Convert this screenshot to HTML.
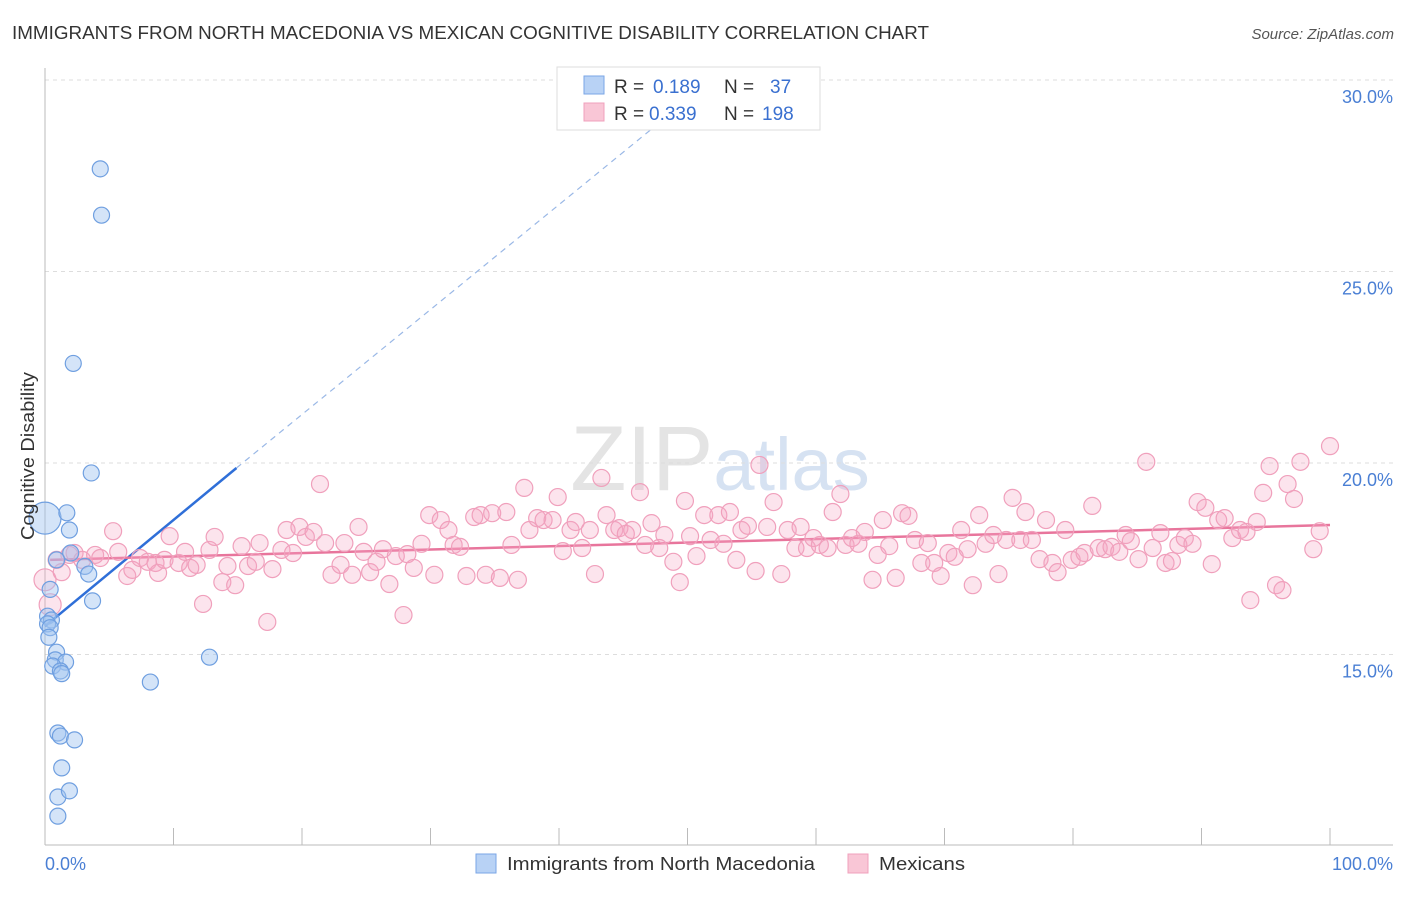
<!DOCTYPE html>
<html><head><meta charset="utf-8"><style>
body{margin:0;background:#fff;font-family:"Liberation Sans",sans-serif;}
svg text{font-family:"Liberation Sans",sans-serif;}
</style></head><body>
<svg id="chart" width="1406" height="892" viewBox="0 0 1406 892">
<text x="12" y="39" font-size="18" fill="#333" textLength="917" lengthAdjust="spacingAndGlyphs">IMMIGRANTS FROM NORTH MACEDONIA VS MEXICAN COGNITIVE DISABILITY CORRELATION CHART</text>
<text x="1394" y="39" font-size="15" fill="#555" text-anchor="end" font-style="italic">Source: ZipAtlas.com</text>
<text x="720" y="490" font-size="92" fill="#e4e4e4" text-anchor="middle" font-family="Liberation Serif">ZIP<tspan fill="#d6e2f2" font-family="Liberation Sans" font-size="74">atlas</tspan></text>
<g id="grid"></g><g id="axes"></g><g id="trend"></g><g id="pts"></g>
<text transform="translate(34,456) rotate(-90)" font-size="18" fill="#333" text-anchor="middle" textLength="168" lengthAdjust="spacingAndGlyphs">Cognitive Disability</text>
<text x="45" y="870" font-size="18" fill="#4a7fd4">0.0%</text>
<text x="1393" y="870" font-size="18" fill="#4a7fd4" text-anchor="end">100.0%</text>
<g>
<rect x="557" y="67" width="263" height="63" fill="#fff" stroke="#ddd"/>
<rect x="584" y="76" width="20" height="18" fill="#b8d2f5" stroke="#7aa6e6"/>
<rect x="584" y="103" width="20" height="18" fill="#f9c6d6" stroke="#f0a0bc"/>
<text x="614" y="93" font-size="19" fill="#333">R =</text>
<text x="653" y="93" font-size="19" fill="#3a70d0">0.189</text>
<text x="724" y="93" font-size="19" fill="#333">N =</text>
<text x="770" y="93" font-size="19" fill="#3a70d0">37</text>
<text x="614" y="120" font-size="19" fill="#333">R =</text>
<text x="649" y="120" font-size="19" fill="#3a70d0">0.339</text>
<text x="724" y="120" font-size="19" fill="#333">N =</text>
<text x="762" y="120" font-size="19" fill="#3a70d0">198</text>
</g>
<g>
<rect x="476" y="854" width="20" height="19" fill="#b8d2f5" stroke="#7aa6e6"/>
<text x="507" y="870" font-size="18" fill="#333" textLength="308" lengthAdjust="spacingAndGlyphs">Immigrants from North Macedonia</text>
<rect x="848" y="854" width="20" height="19" fill="#f9c6d6" stroke="#f0a0bc"/>
<text x="879" y="870" font-size="18" fill="#333" textLength="86" lengthAdjust="spacingAndGlyphs">Mexicans</text>
</g>
</svg>
<script>
const yTicks=[30,25,20,15];
const blueX=[4.3,4.4,2.2,3.6,0,1.7,1.9,2.0,0.9,3.1,3.4,0.4,3.7,0.2,0.5,0.2,0.4,0.3,0.9,0.8,1.6,0.6,1.2,1.3,12.8,8.2,1.0,1.2,2.3,1.3,1.0,1.9,1.0];
const blueY=[27.68,26.47,22.6,19.74,18.56,18.7,18.25,17.65,17.47,17.3,17.1,16.7,16.4,16.0,15.9,15.8,15.7,15.45,15.06,14.86,14.8,14.7,14.57,14.5,14.93,14.28,12.95,12.87,12.77,12.04,11.28,11.44,10.78];
const pinkX=[0,0.4,0.9,1.3,1.9,2.3,2.9,3.9,4.3,5.3,5.7,6.4,6.8,7.4,8.0,8.6,8.8,9.3,9.7,10.4,10.9,11.3,11.8,12.3,12.8,13.2,13.8,14.2,14.8,15.3,15.8,16.4,16.7,17.3,17.7,18.4,18.8,19.3,19.8,20.3,20.9,21.4,21.8,22.3,23.0,23.3,23.9,24.4,24.8,25.3,25.8,26.3,26.8,27.3,27.9,28.2,28.7,29.3,29.9,30.3,30.8,31.4,31.8,32.3,32.8,33.4,33.9,34.3,34.8,35.4,35.9,36.3,36.8,37.3,37.7,38.3,38.8,39.5,39.9,40.3,40.9,41.3,41.8,42.4,42.8,43.3,43.7,44.3,44.7,45.2,45.7,46.3,46.7,47.2,47.8,48.2,48.9,49.4,49.8,50.2,50.7,51.3,51.8,52.4,52.8,53.3,53.8,54.2,54.7,55.3,55.6,56.2,56.7,57.3,57.8,58.4,58.8,59.3,59.8,60.3,60.9,61.3,61.9,62.3,62.8,63.3,63.8,64.4,64.8,65.2,65.7,66.2,66.7,67.2,67.7,68.2,68.7,69.2,69.7,70.3,70.8,71.3,71.8,72.2,72.7,73.2,73.8,74.2,74.8,75.3,75.9,76.3,76.8,77.4,77.9,78.4,78.8,79.4,79.9,80.5,80.9,81.5,82.0,82.5,83.0,83.6,84.1,84.5,85.1,85.7,86.2,86.8,87.2,87.7,88.2,88.7,89.3,89.7,90.3,90.8,91.3,91.8,92.4,93.0,93.5,93.8,94.3,94.8,95.3,95.8,96.3,96.7,97.2,97.7,98.7,99.2,100];
const pinkY=[16.95,16.3,17.47,17.15,17.60,17.65,17.47,17.60,17.52,18.22,17.68,17.05,17.21,17.52,17.42,17.39,17.13,17.47,18.09,17.39,17.68,17.26,17.34,16.32,17.73,18.07,16.89,17.31,16.81,17.83,17.31,17.42,17.91,15.85,17.23,17.73,18.25,17.65,18.33,18.07,18.20,19.45,17.91,17.08,17.34,17.91,17.08,18.33,17.68,17.15,17.42,17.75,16.84,17.57,16.03,17.62,17.26,17.89,18.64,17.08,18.51,18.25,17.86,17.81,17.05,18.59,18.64,17.08,18.69,17.00,18.72,17.86,16.95,19.35,18.25,18.56,18.51,18.51,19.11,17.70,18.25,18.46,17.78,18.25,17.10,19.61,18.64,18.25,18.30,18.15,18.25,19.24,17.86,18.43,17.78,18.12,17.42,16.89,19.01,18.09,17.57,18.64,17.99,18.64,17.89,18.72,17.47,18.25,18.36,17.18,19.95,18.33,18.98,17.10,18.25,17.78,18.33,17.78,18.04,17.86,17.78,18.72,19.19,17.86,18.04,17.89,18.20,16.95,17.60,18.51,17.83,17.00,18.69,18.62,17.99,17.39,17.91,17.39,17.05,17.65,17.55,18.25,17.75,16.81,18.64,17.89,18.12,17.10,17.99,19.09,17.99,18.72,17.99,17.49,18.51,17.39,17.15,18.25,17.47,17.55,17.65,18.88,17.78,17.75,17.81,17.68,18.12,17.96,17.49,20.03,17.78,18.17,17.39,17.44,17.86,18.04,17.89,18.98,18.83,17.36,18.51,18.56,18.04,18.25,18.20,16.42,18.46,19.22,19.92,16.81,16.68,19.45,19.06,20.03,17.75,18.22,20.44];
const blueTrend=[[0,15.74],[14.9,19.87]];
const blueDash=[[14.9,19.87],[47.5,28.8]];
const pinkTrend=[[0.4,17.47],[100,18.38]];
const X=v=>45+v*12.85, Y=v=>80+(30-v)*38.3;
const NS="http://www.w3.org/2000/svg";
function mk(tag,attrs,parent){const e=document.createElementNS(NS,tag);for(const k in attrs)e.setAttribute(k,attrs[k]);document.getElementById(parent).appendChild(e);return e;}
yTicks.forEach(t=>{
 const l=mk('line',{x1:45,x2:1393,y1:Y(t),y2:Y(t),stroke:'#ddd','stroke-dasharray':'4,4'},'grid');
 
 
 const tx=mk('text',{x:1393,y:Y(t)+23,'font-size':18,fill:'#4a7fd4','text-anchor':'end'},'grid');
 tx.textContent=t.toFixed(1)+'%';
 
 
});
const ax=mk('line',{x1:45,x2:1393,y1:845,y2:845,stroke:'#bbb'},'axes');


const ay=mk('line',{x1:45,x2:45,y1:68,y2:845,stroke:'#bbb'},'axes');


for(let i=0;i<=10;i++){const t=mk('line',{x1:X(i*10),x2:X(i*10),y1:828,y2:845,stroke:'#bbb'},'axes');
 
 }
pinkX.forEach((x,i)=>{const c=mk('circle',{cx:X(x),cy:Y(pinkY[i]),r:(x<0.5?11:8.5),fill:'rgba(244,166,194,0.3)',stroke:'#f0a0bc','stroke-width':1.2},'pts');
 
 });
blueX.forEach((x,i)=>{const c=mk('circle',{cx:X(x),cy:Y(blueY[i]),r:(i==4?16:8),fill:'rgba(160,196,240,0.45)',stroke:'#6f9fe0','stroke-width':1.2},'pts');
 
 });
const b=mk('line',{x1:X(blueTrend[0][0]),y1:Y(blueTrend[0][1]),x2:X(blueTrend[1][0]),y2:Y(blueTrend[1][1]),stroke:'#2f6fd8','stroke-width':2.5},'trend');


const bd=mk('line',{x1:X(blueDash[0][0]),y1:Y(blueDash[0][1]),x2:X(blueDash[1][0]),y2:Y(blueDash[1][1]),stroke:'#9ab8e6','stroke-width':1.2,'stroke-dasharray':'6,5'},'trend');


const p=mk('line',{x1:X(pinkTrend[0][0]),y1:Y(pinkTrend[0][1]),x2:X(pinkTrend[1][0]),y2:Y(pinkTrend[1][1]),stroke:'#e8759c','stroke-width':2.5},'trend');


</script>
</body></html>
